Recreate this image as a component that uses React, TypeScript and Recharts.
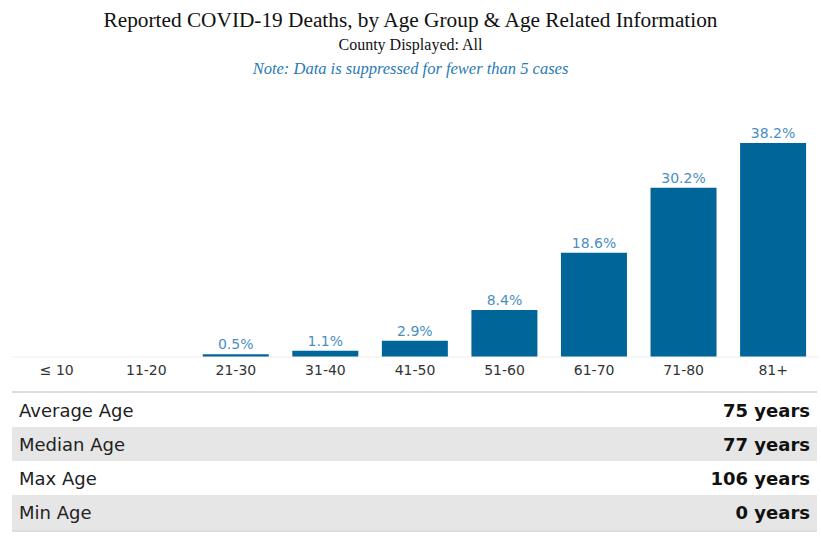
import React from "react"
import { BarChart, Bar, XAxis, YAxis, LabelList } from "recharts"

const ageGroups = ["≤ 10", "11-20", "21-30", "31-40", "41-50", "51-60", "61-70", "71-80", "81+"]
// percent of deaths; the two youngest groups are suppressed (< 5 cases)
const deathShare = [null, null, 0.5, 1.1, 2.9, 8.4, 18.6, 30.2, 38.2]

const statLabels = ["Average Age", "Median Age", "Max Age", "Min Age"]
const statValues = ["75 years", "77 years", "106 years", "0 years"]

const data = ageGroups.map((group, i) => ({ group, share: deathShare[i] }))

const BAR = "#006699"
const LABEL = "#4a8fc2"
const SANS = "'DejaVu Sans', sans-serif"
const SERIF = "'Liberation Serif', 'Times New Roman', serif"

const rowHeights = [34, 34, 34, 35]

export default function App() {
  return (
    <div style={{ position: "absolute", left: 0, top: 0, width: 821, height: 540, background: "#fff" }}>
      <div style={{ position: "absolute", top: 8, width: 821, textAlign: "center", fontFamily: SERIF, fontSize: 21.3, color: "#111" }}>
        Reported COVID-19 Deaths, by Age Group &amp; Age Related Information
      </div>
      <div style={{ position: "absolute", top: 36, width: 821, textAlign: "center", fontFamily: SERIF, fontSize: 16, color: "#111" }}>
        County Displayed: All
      </div>
      <div style={{ position: "absolute", top: 59, width: 821, textAlign: "center", fontFamily: SERIF, fontSize: 16.5, fontStyle: "italic", color: "#2a7ab5" }}>
        Note: Data is suppressed for fewer than 5 cases
      </div>

      <div style={{ position: "absolute", left: 0, top: 0 }}>
        <BarChart
          width={821}
          height={390}
          data={data}
          margin={{ top: 115, right: 3, left: 12, bottom: 0 }}
          barCategoryGap="13%"
        >
          <XAxis
            dataKey="group"
            height={33}
            axisLine={{ stroke: "#eeeeee" }}
            tickLine={false}
            tick={{ fill: "#333", fontSize: 14, fontFamily: SANS }}
            interval={0}
          />
          <YAxis
            width={0}
            domain={[0, 43.2]}
            axisLine={{ stroke: "#f2f2f2" }}
            tick={false}
            tickLine={false}
          />
          <Bar dataKey="share" fill={BAR} isAnimationActive={false}>
            <LabelList
              dataKey="share"
              position="top"
              offset={5}
              fill={LABEL}
              fontSize={14}
              fontFamily={SANS}
              formatter={(v: any) => (v == null ? "" : `${v}%`)}
            />
          </Bar>
        </BarChart>
      </div>

      <div style={{ position: "absolute", left: 12, top: 391, width: 805, borderTop: "2px solid #dddddd", borderBottom: "2px solid #dddddd" }}>
        {statLabels.map((label, i) => (
          <div
            key={label}
            style={{
              height: rowHeights[i],
              background: i % 2 === 1 ? "#e6e6e6" : "#fff",
              display: "flex",
              alignItems: "center",
              justifyContent: "space-between",
              padding: "0 7px",
              fontFamily: SANS,
              fontSize: 18,
              color: "#222",
            }}
          >
            <span>{label}</span>
            <span style={{ fontWeight: "bold", color: "#111" }}>{statValues[i]}</span>
          </div>
        ))}
      </div>
    </div>
  )
}
